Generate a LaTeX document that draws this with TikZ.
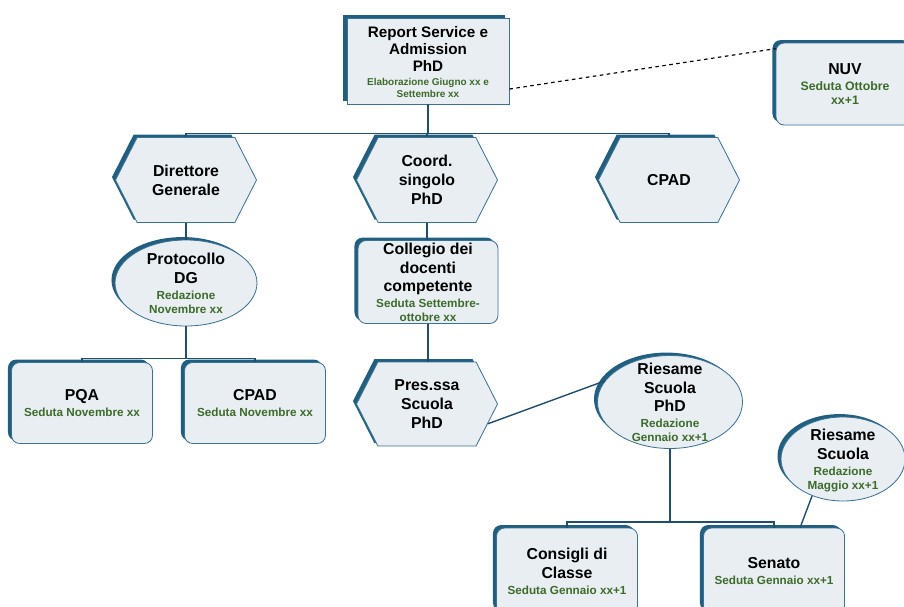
\documentclass[tikz,border=0pt]{standalone}
\usepackage{fontspec}
\setmainfont{Liberation Sans}
\usetikzlibrary{shapes.geometric,shapes.symbols,shadows}

\definecolor{boxfill}{HTML}{E8EEF2}
\definecolor{boxline}{HTML}{3B7191}
\definecolor{boxshade}{HTML}{215F80}
\definecolor{linkblue}{HTML}{1F4F6E}
\definecolor{datedgreen}{HTML}{3D6B2A}

% green line(s) under a name
\newcommand{\dated}[2][10]{\\[-2.5pt]{\color{datedgreen}\fontsize{#1}{#1}\selectfont\def\arraystretch{1.2}\raisebox{0pt}[\height][\dimexpr\depth-4pt\relax]{\begin{tabular}[t]{@{}c@{}}#2\end{tabular}}}}

\tikzset{
  office/.style={draw=boxline, fill=boxfill, line width=0.7pt, align=center,
    inner xsep=2pt, inner ysep=-6pt,
    font=\bfseries\fontsize{13.5}{16}\selectfont,
    general shadow={fill=boxshade, shadow xshift=-3pt, shadow yshift=2.5pt}},
  plainbox/.style={office, rectangle, minimum width=4.86cm, minimum height=2.58cm},
  roundbox/.style={office, rectangle, rounded corners=7pt, minimum width=4.23cm, minimum height=2.43cm},
  hexbox/.style={office, signal, signal to=west and east, signal pointer angle=126,
    minimum width=4.23cm, minimum height=2.55cm},
  ovalbox/.style={office, ellipse, inner ysep=-16pt, minimum width=4.26cm, minimum height=2.58cm},
  link/.style={draw=linkblue, line width=1.2pt},
}

\begin{document}
\begin{tikzpicture}[x=0.03cm, y=-0.03cm]
\useasboundingbox (0,0) rectangle (904,606);

% top row
\node[plainbox, font=\bfseries\fontsize{13}{14.5}\selectfont] (report) at (428,61) {Report Service e\\Admission\\PhD\dated[8.5]{Elaborazione Giugno xx e\\Settembre xx}};
\node[roundbox, minimum width=4.14cm, minimum height=2.46cm] (nuv) at (845,84) {NUV\dated[10.5]{Seduta Ottobre\\xx+1}};

% hexagons
\node[hexbox] (dg) at (186,180) {Direttore\\Generale};
\node[hexbox] (coord) at (427,180) {Coord.\\singolo\\PhD};
\node[hexbox] (cpad) at (669,180) {CPAD};

% left branch
\node[ovalbox] (proto) at (186,283) {Protocollo\\DG\dated{Redazione\\Novembre xx}};
\node[roundbox] (pqa) at (82,403) {PQA\dated{Seduta Novembre xx}};
\node[roundbox] (cpadb) at (255,403) {CPAD\dated{Seduta Novembre xx}};

% middle branch
\node[roundbox, minimum width=4.2cm, minimum height=2.49cm] (collegio) at (428,282) {Collegio dei\\docenti\\competente\dated{Seduta Settembre-\\ottobre xx}};
\node[hexbox, minimum height=2.52cm] (pres) at (427,404) {Pres.ssa\\Scuola\\PhD};
\node[ovalbox, minimum width=4.35cm, minimum height=2.79cm] (riesame) at (670,402) {Riesame\\Scuola\\PhD\dated{Redazione\\Gennaio xx+1}};
\node[ovalbox, minimum width=3.72cm, minimum height=2.52cm] (riesameb) at (843,459) {Riesame\\Scuola\dated{Redazione\\Maggio xx+1}};
\node[roundbox, minimum height=2.58cm] (consigli) at (567,571) {Consigli di\\Classe\dated{Seduta Gennaio xx+1}};
\node[roundbox, minimum height=2.58cm] (senato) at (774,571) {Senato\dated{Seduta Gennaio xx+1}};

% connectors
\draw[link] (report.south) -- ++(0,29) coordinate (topbus);
\draw[link] (dg.north) |- (topbus) -| (cpad.north);
\draw[link] (coord.north) -- (coord.north |- topbus);
\draw[dashed, line width=1pt] (report.-19) -- (nuv.153);

\draw[link] (dg.south) -- (dg.south |- proto.north);
\draw[link] (proto.south) -- ++(0,32) coordinate (dgbus);
\draw[link] (pqa.north) |- (dgbus) -| (cpadb.north);

\draw[link] (coord.south) -- (coord.south |- collegio.north);
\draw[link] (collegio.south) -- (collegio.south |- pres.north);
\draw[link] (pres.-18) -- (riesame.162);
\draw[link] (riesame.south) -- ++(0,73) coordinate (phdbus);
\draw[link] (consigli.north) |- (phdbus) -| (senato.north);
\draw[link] (riesameb.-130) -- (senato.59);

\end{tikzpicture}
\end{document}
